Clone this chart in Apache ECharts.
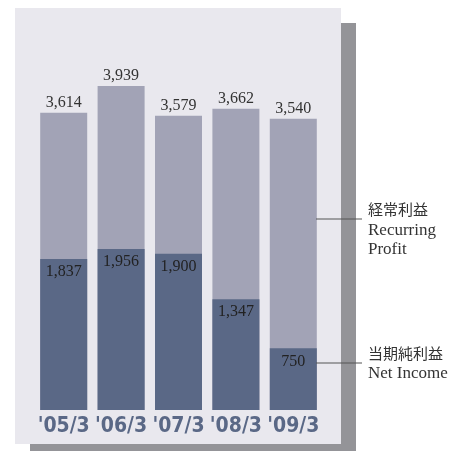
<!DOCTYPE html>
<html><head><meta charset="utf-8">
<script src="https://cdn.jsdelivr.net/npm/echarts@6/dist/echarts.min.js"></script>
<style>html,body{margin:0;padding:0;background:#fff}#c{width:451px;height:451px}</style>
</head><body><div id="c"></div>
<script>
const categories = ["'05/3", "'06/3", "'07/3", "'08/3", "'09/3"];
const recurringProfit = [3614, 3939, 3579, 3662, 3540];
const netIncome = [1837, 1956, 1900, 1347, 750];
const legendRecurringJa = "経常利益";
const legendRecurringEn = ["Recurring", "Profit"];
const legendNetJa = "当期純利益";
const legendNetEn = ["Net Income"];

const fmt = v => v.toLocaleString('en-US');
const serif = "'Liberation Serif','DejaVu Serif',serif";
const jaFont = "15px 'Noto Sans CJK JP',sans-serif";
const enFont = "17px 'Liberation Serif',serif";
const chart = echarts.init(document.getElementById('c'));
chart.setOption({
  animation: false,
  backgroundColor: '#ffffff',
  graphic: [
    { type: 'rect', z: -10, shape: { x: 30, y: 23, width: 326, height: 430 }, style: { fill: '#949498' } },
    { type: 'rect', z: -9, shape: { x: 15, y: 8, width: 326, height: 436 }, style: { fill: '#e9e8ee' } },
    { type: 'line', z: 10, shape: { x1: 316, y1: 219, x2: 362, y2: 219 }, style: { stroke: '#555', lineWidth: 1.2 } },
    { type: 'line', z: 10, shape: { x1: 316, y1: 363, x2: 362, y2: 363 }, style: { stroke: '#555', lineWidth: 1.2 } },
    { type: 'text', left: 368, top: 202, style: { text: legendRecurringJa, fill: '#333', font: jaFont } },
    { type: 'text', left: 368, top: 221, style: { text: legendRecurringEn.join('\n'), fill: '#333', font: enFont, lineHeight: 19 } },
    { type: 'text', left: 368, top: 346, style: { text: legendNetJa, fill: '#333', font: jaFont } },
    { type: 'text', left: 368, top: 364, style: { text: legendNetEn.join('\n'), fill: '#333', font: enFont, lineHeight: 19 } }
  ],
  grid: { left: 35, right: 129, top: 81, bottom: 41 },
  xAxis: {
    type: 'category', data: categories,
    axisLine: { show: false }, axisTick: { show: false },
    axisLabel: { interval: 0, hideOverlap: false, color: '#5a6886', fontSize: 21, fontWeight: 'bold', fontFamily: "'DejaVu Sans Condensed','Liberation Sans Narrow',sans-serif", margin: 6 }
  },
  yAxis: { type: 'value', min: 0, max: 4000, show: false, splitLine: { show: false } },
  series: [
    {
      type: 'bar', data: recurringProfit, barWidth: 47, barGap: '-100%',
      itemStyle: { color: '#a2a3b6' },
      label: { show: true, position: 'top', distance: 2, color: '#333', fontSize: 16, fontFamily: serif, formatter: p => fmt(p.value) }
    },
    {
      type: 'bar', data: netIncome, barWidth: 47, barGap: '-100%',
      itemStyle: { color: '#5a6886' },
      label: { show: true, position: 'insideTop', distance: 5, color: '#222', fontSize: 16, fontFamily: serif, formatter: p => fmt(p.value) }
    }
  ]
});
</script></body></html>
